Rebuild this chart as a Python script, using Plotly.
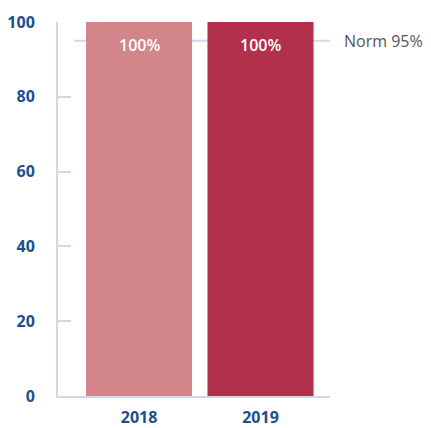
import plotly.graph_objects as go

categories = ["2018", "2019"]
values = [100, 100]
labels = ["100%", "100%"]
bar_colors = ["#d3868a", "#b3304d"]
norm_value = 95
norm_label = "Norm 95%"
y_ticks = [0, 20, 40, 60, 80, 100]

axis_color = "#d3d7ec"
tick_color = "#1b4f8e"

fig = go.Figure()
fig.add_trace(go.Bar(
    x=[0, 1], y=values, marker=dict(color=bar_colors, line=dict(width=0)),
    width=0.873, hoverinfo="skip", showlegend=False,
))

for i, (v, t) in enumerate(zip(values, labels)):
    fig.add_annotation(x=i, y=v, text=t, showarrow=False, yshift=-23,
                       font=dict(family="Open Sans", size=16, color="white", weight=600))

fig.add_shape(type="line", xref="paper", yref="y", x0=0.059, x1=1.0,
              y0=norm_value, y1=norm_value, layer="below",
              line=dict(color=axis_color, width=2))
fig.add_annotation(xref="paper", yref="y", x=1.0, y=norm_value, xanchor="left",
                   xshift=12, text=norm_label, showarrow=False,
                   font=dict(family="Open Sans", size=16, color="#555555"))

fig.update_layout(
    width=423, height=420,
    margin=dict(l=50, r=101, t=14, b=32),
    paper_bgcolor="white", plot_bgcolor="white",
    font=dict(family="Open Sans"),
    xaxis=dict(range=[-0.667, 1.572], tickvals=[0, 1], ticktext=categories,
               showgrid=False, zeroline=False, showline=True, linecolor=axis_color,
               linewidth=2, ticks="", ticklabelstandoff=6, automargin=False,
               tickfont=dict(family="Open Sans", size=16, color=tick_color, weight="bold")),
    yaxis=dict(range=[0, 100], tickvals=y_ticks, showgrid=False, zeroline=False,
               showline=True, linecolor=axis_color, linewidth=2,
               ticks="inside", ticklen=13, tickwidth=2, tickcolor=axis_color,
               ticklabelstandoff=18, automargin=False,
               tickfont=dict(family="Open Sans", size=16, color=tick_color, weight="bold")),
)

fig.write_html("out.html")
